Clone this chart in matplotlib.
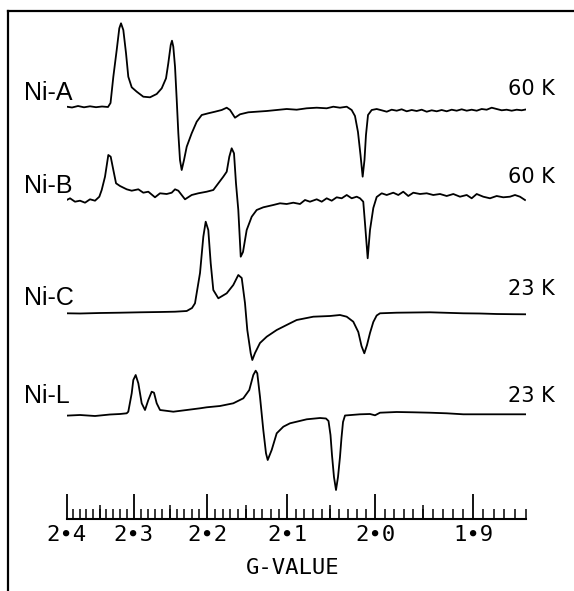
import numpy as np
import matplotlib.pyplot as plt

# EPR spectra of the nickel states, field in mT, intensity in arbitrary units
freq_ghz = 9.4
C = 71.4477 * freq_ghz  # B(mT) = C / g

samples = ['Ni-A', 'Ni-B', 'Ni-C', 'Ni-L']
temps = ['60 K', '60 K', '23 K', '23 K']

field_a = [279.84, 280.80, 281.89, 282.97, 284.06, 285.15, 286.24, 287.32, 287.78, 288.29,
           288.90, 289.37, 289.68, 290.10, 290.59, 291.00, 291.62, 292.53, 293.72, 294.94,
           296.15, 297.06, 297.84, 298.25, 298.69, 298.92, 299.16, 299.47, 299.78, 300.07,
           300.37, 300.68, 301.10, 301.59, 302.49, 303.40, 304.31, 305.50, 306.72, 307.93,
           308.84, 309.44, 310.34, 311.25, 312.75, 314.27, 316.09, 317.90, 319.71, 321.52,
           323.34, 325.15, 326.96, 328.16, 329.37, 330.59, 331.49, 332.09, 332.63, 333.09,
           333.48, 333.81, 334.08, 334.45, 335.12,
           336.02, 336.93, 337.84, 338.74, 339.65, 340.55, 341.46, 342.37, 343.27, 344.18,
           345.09, 345.99, 346.90, 347.80, 348.71, 349.62, 350.52, 351.43, 352.34, 353.24,
           354.15, 355.05, 355.96, 356.87, 357.77, 358.68, 359.58, 360.49, 361.40, 362.30,
           363.21]
int_a = [0.3, -0.5, 1.0, -0.3, 0.7, -0.2, 0.5, 0.0, 4.0, 30.3,
         57.0, 78.7, 83.7, 77.0, 53.7, 30.3, 19.7, 15.3, 10.3, 9.7,
         13.0, 18.7, 28.7, 43.7, 62.0, 66.3, 60.3, 40.3, 7.0, -26.3,
         -53.0, -63.0, -53.0, -39.7, -26.3, -14.7, -8.0, -6.3, -4.7, -3.0,
         -0.7, -3.0, -10.7, -7.3, -5.3, -4.7, -4.0, -3.0, -2.0, -2.7,
         -1.3, -0.7, -1.3, 0.3, -0.7, 0.3, -3.0, -9.0, -25.0, -48.0,
         -69.7, -53.0, -28.0, -8.0, -3.0,
         -2.0, -3.3, -4.7, -2.7, -3.7, -2.3, -4.3, -3.0, -4.0, -2.7,
         -4.7, -3.3, -4.3, -3.0, -4.3, -2.7, -3.7, -2.3, -3.7, -2.7,
         -3.7, -2.0, -2.7, -0.7, -2.0, -3.3, -2.7, -3.7, -2.7, -3.3,
         -2.3]

field_b = [279.84, 280.44, 281.34, 282.25, 283.16, 284.06, 284.97, 285.75, 286.18, 286.78,
           287.38, 287.81, 288.29, 288.78, 289.50, 290.71, 291.62, 292.82, 293.72, 294.63,
           295.84, 296.75, 297.96, 298.87, 299.47, 300.07, 301.28, 302.49, 303.69, 305.21,
           306.41, 307.32, 308.22, 308.84, 309.31, 309.74, 310.16, 310.52, 310.94, 311.38,
           311.79, 312.46, 313.37, 314.27, 315.47, 317.28, 318.50, 319.71, 320.91, 322.12,
           323.03, 323.93, 325.15, 326.06, 326.96, 327.87, 328.77, 329.68, 330.59, 331.49,
           332.40, 333.00, 333.59, 333.90, 334.39, 334.81, 335.41, 336.02, 336.93, 337.84,
           339.03, 339.94, 340.84, 341.75, 342.66, 343.87, 345.09, 346.28, 347.50, 348.71,
           349.91, 351.12, 352.34, 353.24, 354.15, 355.34, 356.56, 357.77, 358.97, 360.18,
           361.09, 361.99, 362.90]
int_b = [0.0, 1.7, -1.7, -0.7, -2.7, 0.7, -0.7, 3.3, 10.0, 23.3,
         45.0, 43.3, 30.0, 16.7, 14.0, 10.7, 9.3, 10.7, 7.3, 8.3,
         2.7, 6.7, 6.0, 7.3, 10.7, 9.3, 0.7, 5.0, 6.7, 8.3,
         10.0, 16.7, 23.3, 28.3, 43.3, 51.7, 46.7, 16.7, -10.0, -56.7,
         -52.0, -30.0, -16.7, -10.0, -7.3, -5.0, -3.3, -4.0, -2.7, -4.0,
         0.0, -1.7, 0.7, -1.7, 1.7, -0.7, 2.7, 1.7, 5.0, 1.7,
         3.3, 1.7, -1.7, -23.0, -58.3, -30.0, -8.0, 3.0, 6.7, 5.0,
         7.3, 5.0, 8.3, 4.0, 7.3, 6.0, 6.7, 5.0, 6.0, 4.0,
         6.0, 3.3, 5.0, 1.7, 6.0, 3.3, 1.7, 4.0, 2.7, 3.3,
         5.0, 3.3, 0.0]

field_c = [279.84, 282.25, 285.87, 289.50, 293.12, 296.75, 299.47, 301.59, 302.55, 303.09,
           304.00, 304.60, 305.03, 305.50, 305.94, 306.41, 307.32, 308.84, 310.03, 310.94,
           311.56, 312.15, 312.57, 313.19, 313.48, 313.97, 314.87, 316.09, 317.90, 320.31,
           321.52, 324.53, 327.56, 329.37, 330.59, 331.78, 332.69, 333.27, 333.78, 334.27,
           334.81, 335.41, 336.02, 336.62, 339.65, 342.66, 345.68, 348.71, 351.72, 354.75,
           357.77, 360.78, 363.21]
int_c = [-0.3, -0.5, 0.0, 0.3, 0.7, 1.0, 1.3, 2.0, 5.0, 9.7,
         40.0, 76.3, 91.3, 83.0, 49.7, 23.0, 14.7, 19.7, 28.0, 38.0,
         35.0, 10.0, -17.0, -40.3, -47.0, -40.0, -30.0, -23.7, -17.0, -10.3,
         -7.0, -3.7, -3.0, -2.0, -3.7, -8.7, -19.0, -33.0, -40.3, -32.0,
         -20.0, -9.0, -2.5, -0.3, 0.3, 0.5, 0.7, 0.2, -0.3, -0.5,
         -1.0, -1.2, -1.3]

field_l = [279.53, 282.25, 284.97, 287.69, 289.50, 290.71, 291.00, 291.62, 291.91, 292.34,
           292.82, 293.43, 294.03, 294.63, 295.24, 295.66, 296.15, 296.75, 299.16, 301.59,
           304.00, 305.21, 307.62, 310.03, 311.85, 312.93, 313.66, 314.09, 314.38, 314.87,
           315.47, 315.96, 316.27, 316.99, 317.90, 319.10, 320.31, 323.34, 325.75, 326.83,
           327.29, 327.65, 327.92, 328.28, 328.65, 329.01, 329.37, 329.64, 329.92, 330.28,
           333.00, 334.81, 335.72, 336.62, 339.65, 342.66, 345.68, 348.71, 351.72, 354.75,
           357.77, 363.50]
int_l = [-1.7, -1.0, -2.0, -0.5, 0.0, 0.7, 2.3, 20.7, 34.0, 39.0,
         30.7, 10.7, 4.0, 14.0, 22.3, 21.3, 10.7, 4.0, 2.3, 4.0,
         5.7, 6.7, 8.0, 10.7, 15.7, 24.0, 39.0, 43.3, 40.7, 17.3,
         -16.0, -39.3, -46.0, -36.0, -19.3, -12.7, -9.3, -5.3, -4.0, -4.5,
         -7.0, -21.0, -41.0, -63.0, -76.0, -63.0, -43.0, -24.0, -8.0, -1.5,
         -0.3, 0.0, -1.3, 1.3, 2.0, 1.7, 1.3, 0.7, -0.3, -0.3,
         -0.3, -0.3]

fields = [field_a, field_b, field_c, field_l]
intensities = [int_a, int_b, int_c, int_l]

# g-value scale under the spectra
g_major = [2.4, 2.3, 2.2, 2.1, 2.0, 1.9]
g_labels = ['2∙4', '2∙3', '2∙2', '2∙1', '2∙0', '1∙9']
g_min, g_max = 1.85, 2.4

# layout
W, H = 574, 591
offsets = [412.3, 319.3, 206.3, 105.3]
name_y = [419.3, 326.3, 214.3, 116.3]
temp_y = [424.3, 336.3, 224.3, 117.3]
name_x = 272.1
temp_x = 368.3

fig = plt.figure(figsize=(W / 100, H / 100), dpi=100)

# outer frame (open at the bottom)
frame = fig.add_axes([8 / W, 0, 1 - 9.5 / W, 1 - 11 / H])
frame.set_xticks([])
frame.set_yticks([])
frame.spines['bottom'].set_visible(False)
frame.spines['right'].set_visible(False)
frame.spines['left'].set_linewidth(1.6)
frame.spines['top'].set_linewidth(1.6)
frame.patch.set_alpha(0)

ax = fig.add_axes([66.7 / W, 1 - 519.3 / H, 459 / W, 508.3 / H])
ax.patch.set_alpha(0)
ax.set_xlim(C / g_max, C / g_min)
ax.set_ylim(0, 508.3)

for f, y, off in zip(fields, intensities, offsets):
    ax.plot(f, np.array(y) + off, color='black', lw=1.3, solid_joinstyle='round')

for name, t, ny, ty in zip(samples, temps, name_y, temp_y):
    ax.text(name_x, ny, name, fontsize=18, family='Liberation Sans', va='baseline', ha='left')
    ax.text(temp_x, ty, t, fontsize=15, family='DejaVu Sans', va='baseline', ha='right')

for s in ['left', 'right', 'top']:
    ax.spines[s].set_visible(False)
ax.spines['bottom'].set_linewidth(1.5)
ax.set_yticks([])

g_minor = np.round(np.arange(g_min, g_max + 0.001, 0.01), 2)
g_mid = [2.35, 2.25, 2.15, 2.05, 1.95]
ax.set_xticks([C / g for g in g_major])
ax.set_xticklabels(g_labels, family='DejaVu Sans Mono', fontsize=16)
ax.set_xticks([C / g for g in g_minor], minor=True)
ax.tick_params(axis='x', which='major', direction='in', length=18, width=1.3, pad=4)
ax.tick_params(axis='x', which='minor', direction='in', length=7, width=1.1)

ax2 = ax.twiny()
ax2.set_position(ax.get_position())
ax2.set_xlim(ax.get_xlim())
ax2.set_xticks([C / g for g in g_mid])
ax2.tick_params(axis='x', which='major', direction='in', length=10, width=1.1,
                top=False, bottom=True, labeltop=False, labelbottom=False)
for s in ax2.spines.values():
    s.set_visible(False)
ax2.patch.set_alpha(0)

fig.text(293 / W, 1 - 568 / H, 'G-VALUE', family='DejaVu Sans Mono', fontsize=16,
         ha='center', va='center')

plt.savefig('out.png', dpi=100)
